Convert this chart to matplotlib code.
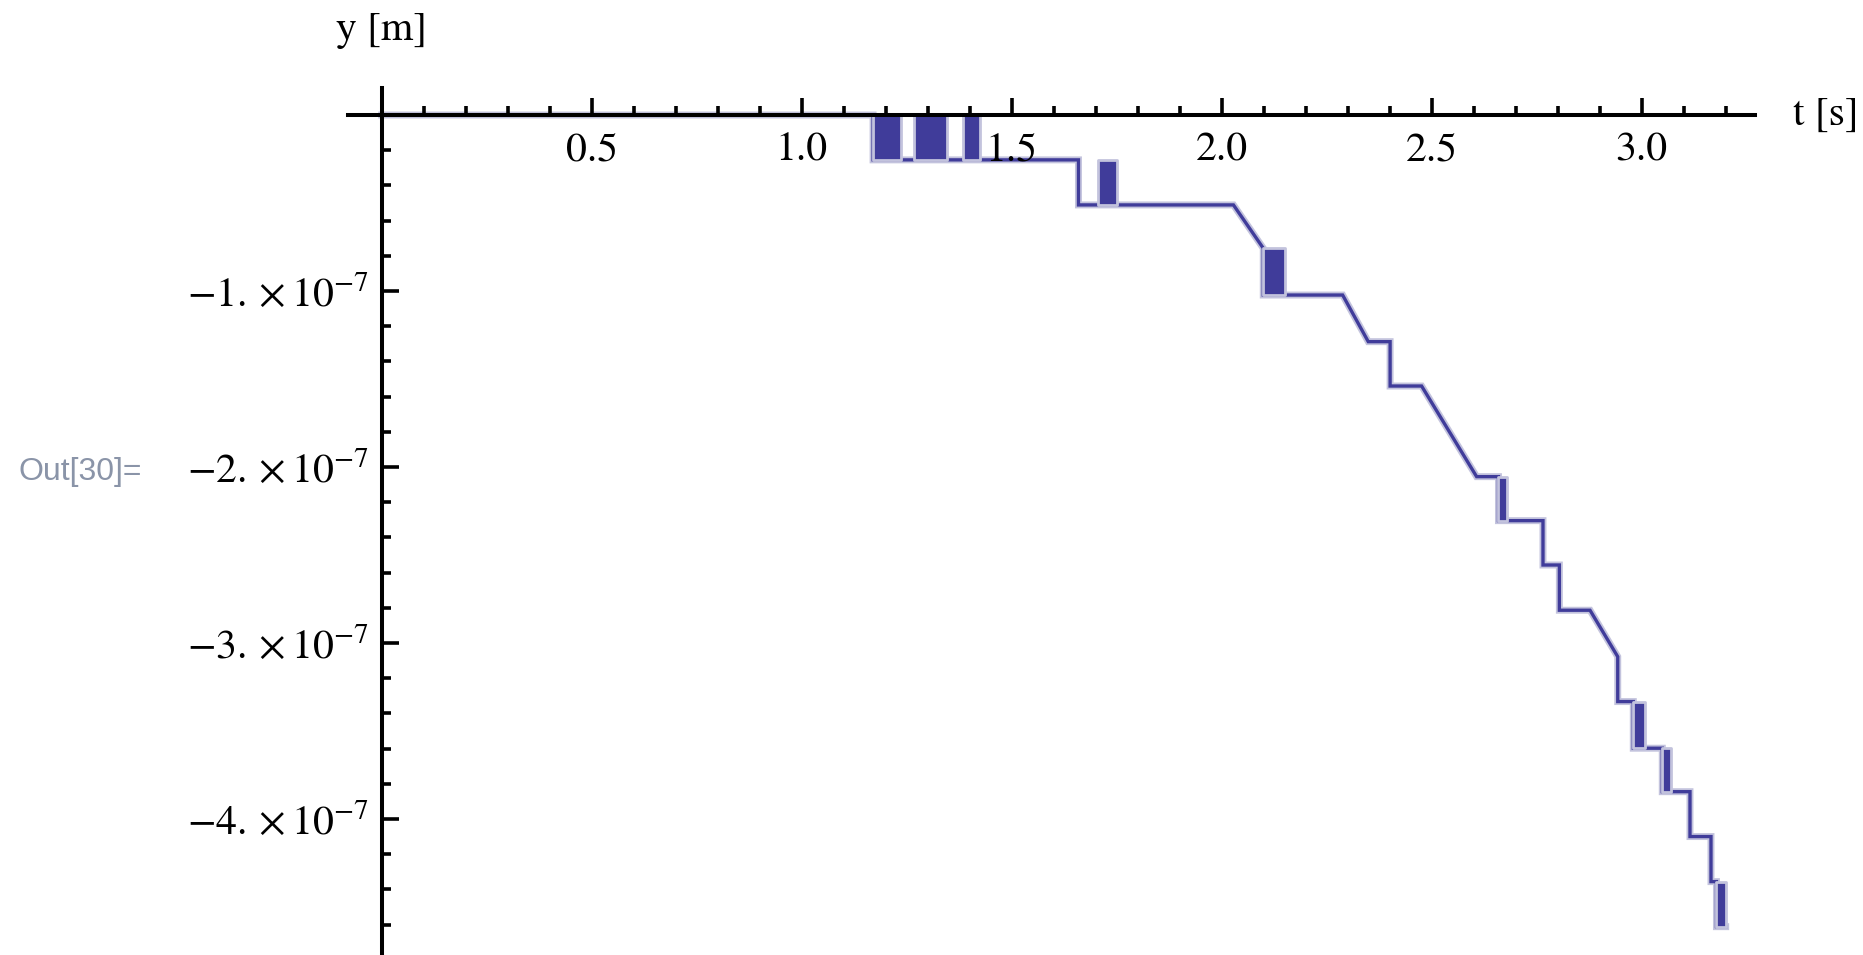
import numpy as np
import matplotlib
matplotlib.use('Agg')
import matplotlib.pyplot as plt
from matplotlib.ticker import FixedLocator, MultipleLocator, FuncFormatter

# main path of y(t), y in units of 1e-7 m
t_path = [0.0, 1.170, 1.170, 1.659, 1.659, 2.028, 2.099, 2.099, 2.288, 2.349,
          2.401, 2.401, 2.476, 2.607, 2.659, 2.659, 2.765, 2.765, 2.804, 2.804,
          2.877, 2.943, 2.943, 2.980, 2.980, 3.049, 3.049, 3.115, 3.115, 3.165,
          3.165, 3.178, 3.178, 3.200]
y_path = [0.0, 0.0, -0.255, -0.255, -0.511, -0.511, -0.757, -1.023, -1.023, -1.288,
          -1.288, -1.540, -1.540, -2.055, -2.055, -2.305, -2.305, -2.557, -2.557, -2.814,
          -2.814, -3.078, -3.333, -3.333, -3.598, -3.598, -3.845, -3.845, -4.100, -4.100,
          -4.356, -4.356, -4.612, -4.612]

# chattering intervals (dense back-and-forth between two levels)
chat_start = [1.170, 1.267, 1.385, 1.706, 2.099, 2.659, 2.980, 3.049, 3.178]
chat_end   = [1.236, 1.345, 1.425, 1.750, 2.151, 2.680, 3.009, 3.069, 3.200]
chat_top   = [0.0, 0.0, 0.0, -0.255, -0.757, -2.055, -3.333, -3.598, -4.356]
chat_bot   = [-0.255, -0.255, -0.255, -0.511, -1.023, -2.305, -3.598, -3.845, -4.612]

x_major = [0.5, 1.0, 1.5, 2.0, 2.5, 3.0]
y_major = [-4e-7, -3e-7, -2e-7, -1e-7]

dark = '#403c9a'
halo = '#c3c3dd'

plt.rcParams['font.family'] = 'STIXGeneral'
plt.rcParams['mathtext.fontset'] = 'stix'

W, H = 1863, 955
fig = plt.figure(figsize=(W/100, H/100), dpi=100)
ax = fig.add_axes([348/W, 0, (1755-348)/W, (955-88)/H])
ax.set_xlim(-0.0802, 3.2698)
ax.set_ylim(-4.773e-7, 0.1534e-7)

t = np.array(t_path)
y = np.array(y_path)*1e-7
ax.plot(t, y, color=halo, lw=5.0, solid_joinstyle='miter', zorder=1)
ax.plot(t, y, color=dark, lw=2.4, solid_joinstyle='miter', zorder=1.5)
for a, b, top, bot in zip(chat_start, chat_end, chat_top, chat_bot):
    ax.fill_between([a, b], [top*1e-7]*2, [bot*1e-7]*2, facecolor=dark,
                    edgecolor=halo, linewidth=2.0, zorder=1.6)

for s in ['top', 'right']:
    ax.spines[s].set_visible(False)
ax.spines['left'].set_position(('data', 0))
ax.spines['bottom'].set_position(('data', 0))
for s in ['left', 'bottom']:
    ax.spines[s].set_linewidth(2.9)

ax.xaxis.set_major_locator(FixedLocator(x_major))
ax.xaxis.set_minor_locator(MultipleLocator(0.1))
ax.yaxis.set_major_locator(FixedLocator(y_major))
ax.yaxis.set_minor_locator(MultipleLocator(0.2e-7))
ax.xaxis.set_major_formatter(FuncFormatter(lambda v, p: '%.1f' % v))
ax.yaxis.set_major_formatter(FuncFormatter(
    lambda v, p: r'$-%d.\times 10^{-7}$' % round(-v*1e7)))

ax.tick_params(which='both', direction='in', width=2.6)
ax.tick_params(which='major', length=12.5, labelsize=30)
ax.tick_params(which='minor', length=6.5)
ax.tick_params(axis='x', which='major', pad=12)
ax.tick_params(axis='y', which='major', pad=9)

fig.text(381/W, 1-30/H, 'y [m]', fontsize=30, ha='center', va='center')
fig.text(1793/W, 1-115/H, 't [s]', fontsize=30, ha='left', va='center')
fig.text(18/W, 1-472/H, 'Out[30]=', fontsize=23, ha='left', va='center',
         color='#8a94a8', family='Liberation Sans')

fig.savefig('out.png', dpi=100)
